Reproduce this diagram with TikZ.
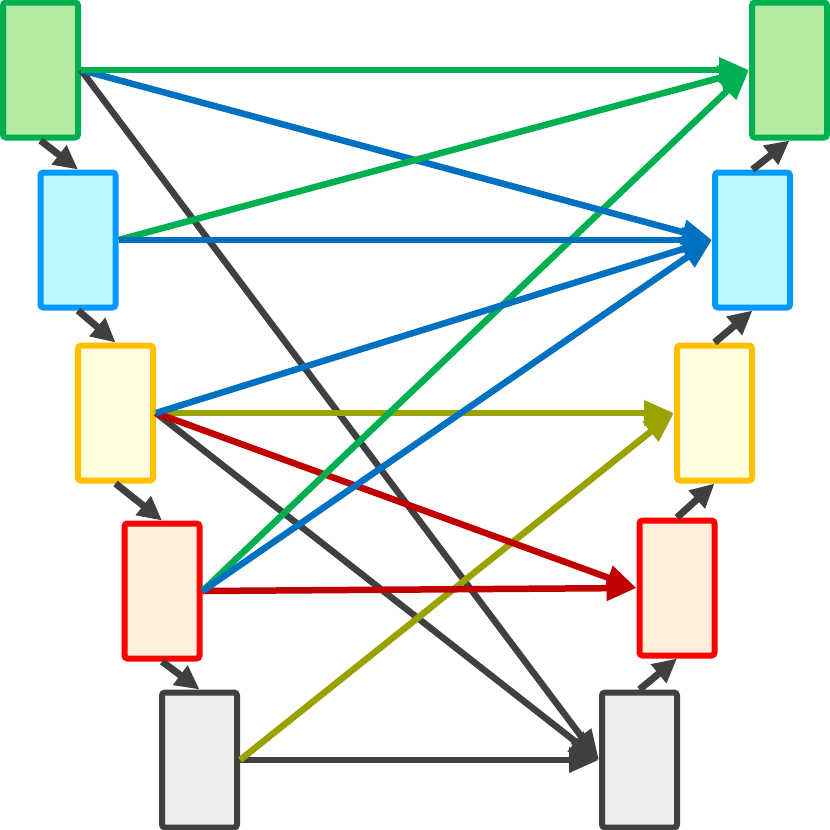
\documentclass[tikz,border=0pt]{standalone}
\usepackage{xcolor}
\usepackage{tikz}
\usetikzlibrary{arrows.meta}
\definecolor{CellGreen}{HTML}{00B050}
\definecolor{CellGreenFill}{HTML}{B3EBA3}
\definecolor{CellBlue}{HTML}{0099FF}
\definecolor{CellBlueFill}{HTML}{BBF7FF}
\definecolor{CellYellow}{HTML}{FFC000}
\definecolor{CellYellowFill}{HTML}{FEFEDE}
\definecolor{CellRed}{HTML}{FF0000}
\definecolor{CellRedFill}{HTML}{FFEEDC}
\definecolor{CellInk}{HTML}{404040}
\definecolor{CellGrayFill}{HTML}{EEEEEE}
\definecolor{FlowBlue}{HTML}{0070C0}
\definecolor{FlowOlive}{HTML}{99A200}
\definecolor{FlowRed}{HTML}{C00000}
\tikzset{
  cell/.style={rounded corners=3pt,line width=6pt,minimum width=75pt,
    minimum height=135pt,inner sep=0pt,outer sep=3pt},
  greenbox/.style={cell,draw=CellGreen,fill=CellGreenFill},
  bluebox/.style={cell,draw=CellBlue,fill=CellBlueFill},
  yellowbox/.style={cell,draw=CellYellow,fill=CellYellowFill},
  redbox/.style={cell,draw=CellRed,fill=CellRedFill},
  graybox/.style={cell,draw=CellInk,fill=CellGrayFill},
  flow/.style={-{Triangle[length=30pt,width=24pt]},line width=6.5pt},
  greenflow/.style={flow,draw=CellGreen},
  blueflow/.style={flow,draw=FlowBlue},
  oliveflow/.style={flow,draw=FlowOlive},
  redflow/.style={flow,draw=FlowRed},
  grayflow/.style={flow,draw=CellInk},
  chainflow/.style={-{Triangle[length=24pt,width=23pt]},line width=7pt,draw=CellInk}
}
\begin{document}
\begin{tikzpicture}[x=1pt,y=-1pt]
  \useasboundingbox (0,0) rectangle (830,830);
  % left column
  \node[greenbox] (l1) at (40.5,70) {};
  \node[bluebox] (l2) at (78,240) {};
  \node[yellowbox] (l3) at (115.5,413) {};
  \node[redbox] (l4) at (162,591) {};
  \node[graybox] (l5) at (199.5,760) {};
  % right column
  \node[greenbox] (r1) at (789.5,70) {};
  \node[bluebox] (r2) at (752.5,240) {};
  \node[yellowbox] (r3) at (714.5,413) {};
  \node[redbox] (r4) at (677,588) {};
  \node[graybox] (r5) at (639.5,760) {};
  % chains
  \draw[chainflow] (l1.south) -- (l2.north);
  \draw[chainflow] (l2.south) -- (l3.north);
  \draw[chainflow] (l3.south) -- (l4.north);
  \draw[chainflow] (l4.south) -- (l5.north);
  \draw[chainflow] (r5.north) -- (r4.south);
  \draw[chainflow] (r4.north) -- (r3.south);
  \draw[chainflow] (r3.north) -- (r2.south);
  \draw[chainflow] (r2.north) -- (r1.south);
  % cross flows
  \draw[grayflow] (l1.east) -- (r5.west);
  \draw[grayflow] (l3.east) -- (r5.west);
  \draw[grayflow] (l5.east) -- (r5.west);
  \draw[oliveflow] (l5.east) -- (r3.west);
  \draw[oliveflow] (l3.east) -- (r3.west);
  \draw[redflow] (l3.east) -- (r4.west);
  \draw[redflow] (l4.east) -- (r4.west);
  \draw[greenflow] (l4.east) -- (r1.west);
  \draw[blueflow] (l4.east) -- (r2.west);
  \draw[blueflow] (l3.east) -- (r2.west);
  \draw[blueflow] (l1.east) -- (r2.west);
  \draw[greenflow] (l2.east) -- (r1.west);
  \draw[blueflow] (l2.east) -- (r2.west);
  \draw[greenflow] (l1.east) -- (r1.west);
\end{tikzpicture}
\end{document}
